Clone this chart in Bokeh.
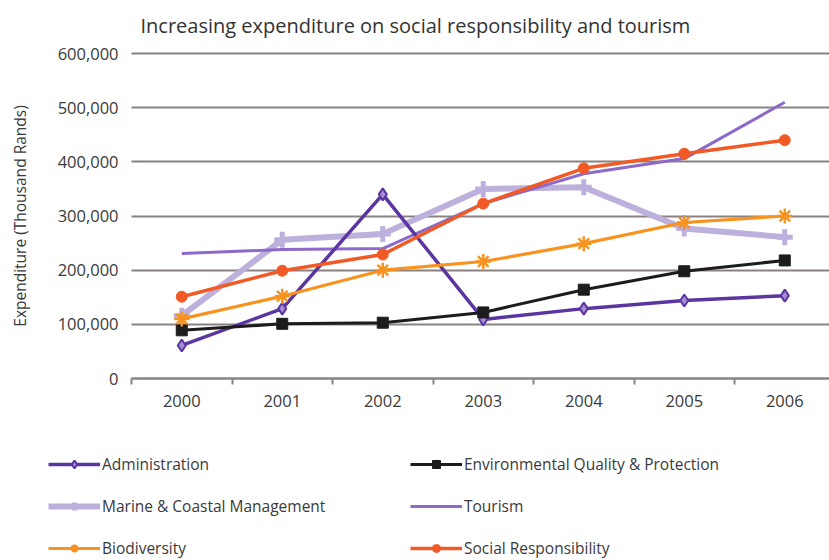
from bokeh.plotting import figure
from bokeh.models import Range1d, FixedTicker, Legend, LegendItem
from bokeh.embed import file_html
from bokeh.resources import INLINE

years = ["2000", "2001", "2002", "2003", "2004", "2005", "2006"]
administration = [61000, 129000, 340000, 109000, 129000, 144000, 153000]
environmental = [89000, 101000, 103000, 122000, 164000, 198000, 218000]
marine = [116000, 256000, 267000, 350000, 353000, 277000, 261000]
tourism = [231000, 238000, 240000, 323000, 378000, 406000, 510000]
biodiversity = [110000, 152000, 200000, 216000, 249000, 288000, 300000]
social = [151000, 199000, 229000, 323000, 388000, 415000, 440000]
y_ticks = [0, 100000, 200000, 300000, 400000, 500000, 600000]
y_tick_labels = ["0", "100,000", "200,000", "300,000", "400,000", "500,000", "600,000"]

FONT = "Open Sans"
TXT = "#3a3a3a"
GRID = "#8a8282"

C_ADMIN = "#5b35a0"
C_ENV = "#1c1c1c"
C_MARINE = "#bdb0dc"
C_TOUR = "#8d69c9"
C_BIO = "#f7931e"
C_SOC = "#f15a24"

xs = [i + 0.5 for i in range(len(years))]
X_END = 6.945

p = figure(width=829, height=560, output_backend="svg", toolbar_location=None,
           x_range=Range1d(-1.3035, X_END), y_range=Range1d(-336000, 614800),
           min_border_left=0, min_border_right=0, min_border_top=45, min_border_bottom=0)
p.outline_line_color = None
p.background_fill_color = "white"

p.title.text = "Increasing expenditure on social responsibility and tourism"
p.title.align = "left"
p.title.offset = 140
p.title.text_font = FONT
p.title.text_font_size = "20px"
p.title.text_font_style = "normal"
p.title.text_color = "#333333"
p.title.standoff = 14

# y axis, pinned at the left edge of the category area
p.yaxis.fixed_location = 0
p.yaxis.bounds = (y_ticks[0], y_ticks[-1])
p.yaxis.ticker = FixedTicker(ticks=y_ticks, minor_ticks=[])
p.yaxis.major_label_overrides = {t: l for t, l in zip(y_ticks, y_tick_labels)}
p.yaxis.axis_line_color = None
p.yaxis.major_tick_line_color = None
p.yaxis.major_tick_out = 0
p.yaxis.major_tick_in = 0
p.yaxis.minor_tick_line_color = None
p.yaxis.major_label_standoff = 13
p.yaxis.major_label_text_font = FONT
p.yaxis.major_label_text_font_size = "16.5px"
p.yaxis.major_label_text_color = TXT
p.yaxis.axis_label = "Expenditure (Thousand Rands)"
p.yaxis.axis_label_text_font = FONT
p.yaxis.axis_label_text_font_size = "15.5px"
p.yaxis.axis_label_text_font_style = "normal"
p.yaxis.axis_label_text_color = TXT
p.yaxis.axis_label_standoff = 24

# x axis at value 0: labels at category centers, ticks at category boundaries
p.xaxis.fixed_location = 0
p.xaxis.bounds = (0, X_END)
p.xaxis.ticker = FixedTicker(ticks=xs, minor_ticks=list(range(len(years) + 1)))
p.xaxis.major_label_overrides = {x: y for x, y in zip(xs, years)}
p.xaxis.axis_line_color = GRID
p.xaxis.axis_line_width = 2
p.xaxis.major_tick_line_color = None
p.xaxis.major_tick_out = 0
p.xaxis.major_tick_in = 0
p.xaxis.minor_tick_line_color = GRID
p.xaxis.minor_tick_line_width = 2
p.xaxis.minor_tick_out = 6
p.xaxis.minor_tick_in = 0
p.xaxis.major_label_standoff = 10
p.xaxis.major_label_text_font = FONT
p.xaxis.major_label_text_font_size = "16.5px"
p.xaxis.major_label_text_color = TXT

p.xgrid.grid_line_color = None
p.ygrid.ticker = FixedTicker(ticks=y_ticks)
p.ygrid.cross_bounds = (0, X_END)
p.ygrid.grid_line_color = GRID
p.ygrid.grid_line_width = 2

r_mar = [p.line(xs, marine, line_color=C_MARINE, line_width=6),
         p.scatter(xs, marine, marker="cross", size=16, line_color=C_MARINE, line_width=5)]
r_tour = [p.line(xs, tourism, line_color=C_TOUR, line_width=3)]
r_adm = [p.line(xs, administration, line_color=C_ADMIN, line_width=3.5),
         p.scatter(xs, administration, marker="diamond", size=12, line_color=C_ADMIN,
                   line_width=2, fill_color="#a58fd3")]
r_env = [p.line(xs, environmental, line_color=C_ENV, line_width=3),
         p.scatter(xs, environmental, marker="square", size=11, line_color=C_ENV, fill_color=C_ENV)]
r_bio = [p.line(xs, biodiversity, line_color=C_BIO, line_width=3.2),
         p.scatter(xs, biodiversity, marker="asterisk", size=15, line_color=C_BIO, line_width=2.5)]
r_soc = [p.line(xs, social, line_color=C_SOC, line_width=3.5),
         p.scatter(xs, social, marker="circle", size=11, line_color=C_SOC, fill_color=C_SOC)]


def make_legend(items, loc):
    lg = Legend(items=items, location=loc, orientation="vertical")
    lg.border_line_color = None
    lg.background_fill_alpha = 0
    lg.padding = 0
    lg.margin = 0
    lg.spacing = 20
    lg.glyph_width = 52
    lg.glyph_height = 20
    lg.label_height = 20
    lg.label_standoff = 2
    lg.label_text_font = FONT
    lg.label_text_font_size = "15.5px"
    lg.label_text_color = TXT
    return lg


left_items = [
    LegendItem(label="Administration", renderers=r_adm),
    LegendItem(label="Marine & Coastal Management", renderers=r_mar),
    LegendItem(label="Biodiversity", renderers=r_bio),
]
right_items = [
    LegendItem(label="Environmental Quality & Protection", renderers=r_env),
    LegendItem(label="Tourism", renderers=r_tour),
    LegendItem(label="Social Responsibility", renderers=r_soc),
]
p.add_layout(make_legend(left_items, (48, 1)))
p.add_layout(make_legend(right_items, (410, 1)))

open("out.html", "w").write(file_html(p, INLINE))
